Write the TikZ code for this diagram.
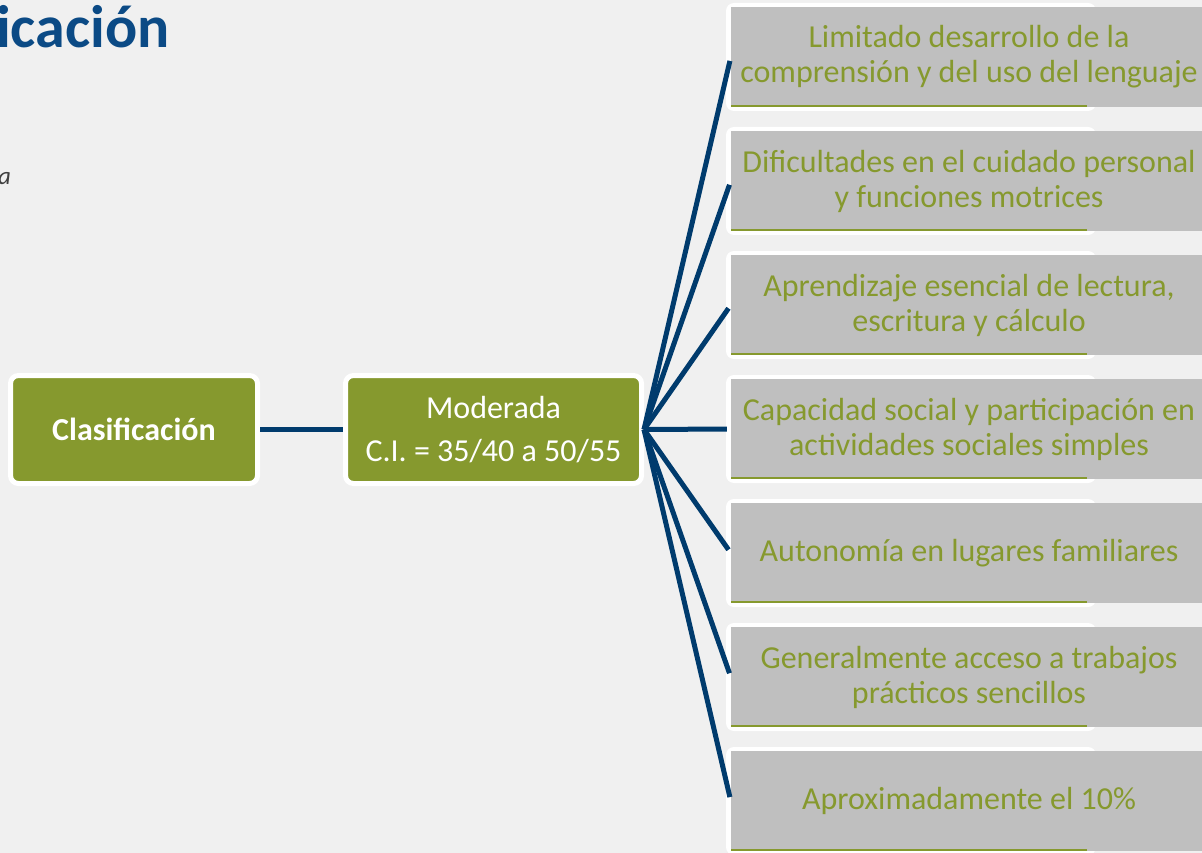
\documentclass[tikz,border=0pt]{standalone}
\usepackage{fontspec}
\setmainfont{Carlito}
\definecolor{bgc}{HTML}{F0F0F0}
\definecolor{olive}{HTML}{86992E}
\definecolor{navy}{HTML}{003B6D}
\definecolor{ttl}{HTML}{0B4A85}
\definecolor{boxgray}{HTML}{BFBFBF}
\definecolor{itgray}{HTML}{404040}
\tikzset{
  greenbox/.style={draw=white, line width=5pt, fill=olive, rounded corners=8pt,
    text=white, align=center, inner sep=0pt, font=\fontsize{32}{43}\selectfont},
  graybox/.style={fill=boxgray, minimum width=476pt, minimum height=100pt,
    inner sep=0pt, text=olive, align=center, font=\fontsize{32}{35}\selectfont},
  whiteback/.style={fill=white, rounded corners=8pt},
  conn/.style={draw=navy, line width=5pt},
  baseline/.style={draw=olive, line width=2pt}
}
\begin{document}
\begin{tikzpicture}[x=1pt, y=-1pt]
\useasboundingbox (0,0) rectangle (1202,853);
\clip (0,0) rectangle (1202,853);
\fill[bgc] (0,0) rectangle (1202,853);

\node[anchor=base west, text=ttl, inner sep=0pt, font=\fontsize{60}{72}\selectfont\bfseries] (title) at (-4,48) {icación};
\node[anchor=base west, text=itgray, inner sep=0pt, font=\fontsize{25}{30}\selectfont\itshape] (frag) at (-2,185) {a};

\node[greenbox, minimum width=247pt, minimum height=108pt, font=\fontsize{32}{43}\selectfont\bfseries] (cls) at (134,429.5) {Clasificación};
\node[greenbox, minimum width=296pt, minimum height=108pt] (mod) at (493.5,429.5) {Moderada\\C.I. = 35/40 a 50/55};

\draw[conn] (cls.east) -- (mod.west);

\foreach \i/\c/\t in {
  1/57/{Limitado desarrollo de la\\comprensión y del uso del lenguaje},
  2/181/{Dificultades en el cuidado personal\\y funciones motrices},
  3/305/{Aprendizaje esencial de lectura,\\escritura y cálculo},
  4/429/{Capacidad social y participación en\\actividades sociales simples},
  5/553/{Autonomía en lugares familiares},
  6/677/{Generalmente acceso a trabajos\\prácticos sencillos},
  7/801/{Aproximadamente el 10\%}}{
  \path[whiteback] (726,\c-54) rectangle (1096,\c+54);
  \node[graybox] (b\i) at (969,\c) {\t};
  \draw[baseline] (731,\c+49) -- (1087,\c+49);
  \draw[conn, shorten >=4pt] (mod.east) -- (b\i.west);
}
\end{tikzpicture}
\end{document}
